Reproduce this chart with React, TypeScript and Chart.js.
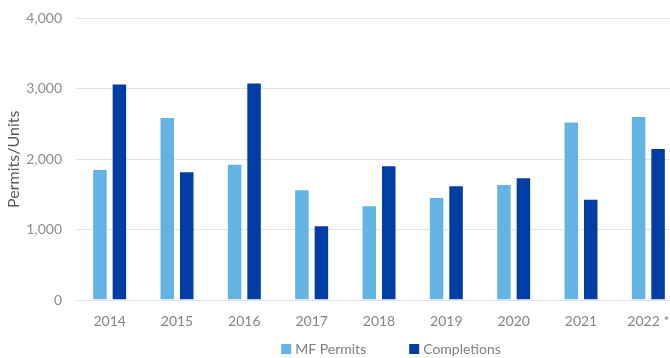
import React, { useEffect, useRef } from "react";
import { Chart, registerables } from "chart.js";

Chart.register(...registerables);

const categories = ["2014", "2015", "2016", "2017", "2018", "2019", "2020", "2021", "2022 *"];
const mfPermits = [1861, 2600, 1936, 1572, 1345, 1463, 1648, 2538, 2614];
const completions = [3078, 1828, 3092, 1061, 1913, 1629, 1743, 1439, 2159];
const yTicks = [0, 1000, 2000, 3000, 4000];

const LIGHT = "#63B4E4";
const DARK = "#003DA5";
const FONT = "Lato, 'Open Sans', sans-serif";

const legendPlugin = {
  id: "customLegend",
  afterDraw(chart: any) {
    const ctx = chart.ctx;
    ctx.save();
    ctx.font = `14px ${FONT}`;
    ctx.textBaseline = "middle";
    ctx.textAlign = "left";
    const items = chart.data.datasets.map((d: any) => ({ label: d.label, color: d.backgroundColor }));
    const box = 10;
    const gapBoxText = 4;
    const gapItems = 43;
    const widths = items.map((it: any) => box + gapBoxText + ctx.measureText(it.label).width);
    const total = widths.reduce((a: number, b: number) => a + b, 0) + gapItems * (items.length - 1);
    let x = 391 - total / 2;
    const y = 349;
    items.forEach((it: any, i: number) => {
      ctx.fillStyle = it.color;
      ctx.fillRect(x, y - box / 2, box, box);
      ctx.fillStyle = "#808080";
      ctx.fillText(it.label, x + box + gapBoxText, y);
      x += widths[i] + gapItems;
    });
    ctx.restore();
  },
};

export default function App() {
  const ref = useRef<HTMLCanvasElement | null>(null);
  useEffect(() => {
    if (!ref.current) return;
    const chart = new Chart(ref.current, {
      type: "bar",
      data: {
        labels: categories,
        datasets: [
          {
            label: "MF Permits",
            data: mfPermits,
            backgroundColor: LIGHT,
            borderColor: "rgba(255,255,255,0.25)",
            borderWidth: 1,
            categoryPercentage: 0.579,
            barPercentage: 0.795,
          },
          {
            label: "Completions",
            data: completions,
            backgroundColor: DARK,
            borderColor: "rgba(255,255,255,0.25)",
            borderWidth: 1,
            categoryPercentage: 0.579,
            barPercentage: 0.795,
          },
        ],
      },
      options: {
        responsive: false,
        animation: false,
        layout: { padding: { top: 18.5, right: 0, bottom: 0, left: 0 } },
        plugins: {
          legend: { display: false },
          tooltip: { enabled: false },
        },
        scales: {
          x: {
            grid: { display: false, drawTicks: false },
            border: { display: false },
            ticks: { color: "#858585", font: { family: FONT, size: 14 }, padding: 13 },
            afterFit: (scale: any) => {
              scale.height = 58;
              scale.paddingLeft = 0;
              scale.paddingRight = 0;
            },
          },
          y: {
            min: 0,
            max: 4000,
            afterBuildTicks: (scale: any) => {
              scale.ticks = yTicks.map((v) => ({ value: v }));
            },
            grid: { color: "#e3e3e3", drawTicks: false, lineWidth: 1 },
            border: { display: false },
            ticks: {
              color: "#8c8c8c",
              font: { family: FONT, size: 14 },
              padding: 14,
              callback: (v: any) => Number(v).toLocaleString("en-US"),
            },
            title: {
              display: true,
              text: "Permits/Units",
              color: "#595959",
              font: { family: FONT, size: 16 },
              padding: { top: 4, bottom: 0 },
            },
            afterFit: (scale: any) => {
              scale.width = 76;
              scale.paddingTop = 0;
              scale.paddingBottom = 0;
            },
          },
        },
      },
      plugins: [legendPlugin],
    });
    return () => chart.destroy();
  }, []);
  return (
    <div style={{ position: "fixed", left: 0, top: 0, width: 670, height: 358, overflow: "hidden", background: "#fff" }}>
      <canvas ref={ref} width={682} height={358} style={{ width: 682, height: 358, display: "block" }} />
    </div>
  );
}
